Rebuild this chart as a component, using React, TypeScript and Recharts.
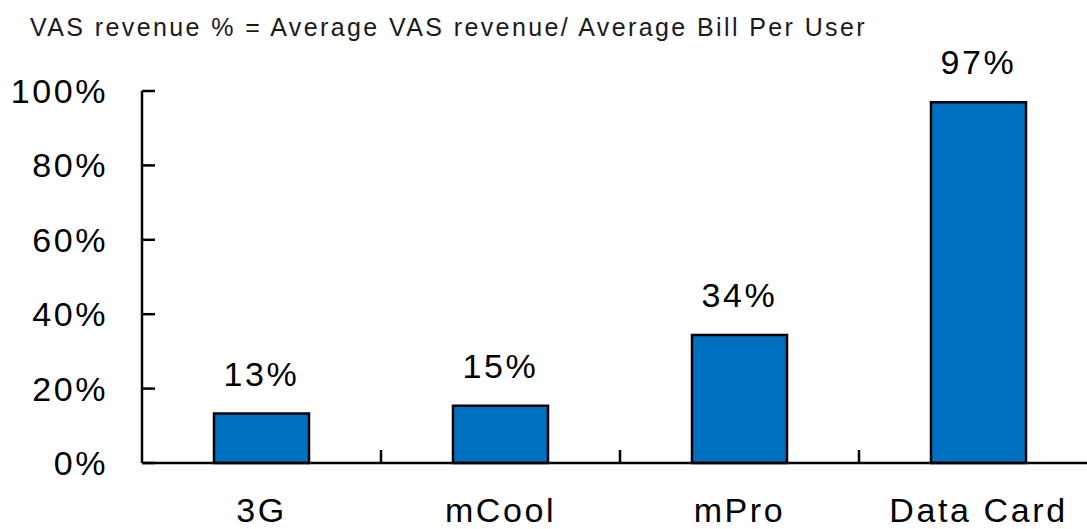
import React from 'react';
import { BarChart, Bar, XAxis, YAxis, LabelList } from 'recharts';

const categories = ['3G', 'mCool', 'mPro', 'Data Card'];
const vasShare = [0.133, 0.154, 0.344, 0.97];
const yTicks = [0, 0.2, 0.4, 0.6, 0.8, 1];
const yTickLabels = ['0%', '20%', '40%', '60%', '80%', '100%'];
const title = 'VAS revenue % = Average VAS revenue/ Average Bill Per User';

const data = categories.map((name, i) => ({ name, value: vasShare[i] }));

const FONT = '"Liberation Sans", Arial, sans-serif';
const BIG = 34;
const LS = 2.6;

const XTick = (props: any) => {
  const { x, y, payload } = props;
  const off = payload && payload.offset ? payload.offset : 0;
  return (
    <g>
      <line x1={x + off} x2={x + off} y1={y} y2={y - 13} stroke="#000" strokeWidth={2.5} />
      <text x={x} y={y + 59} textAnchor="middle" fontSize={BIG} fontFamily={FONT} letterSpacing={LS} fill="#000">
        {payload.value}
      </text>
    </g>
  );
};

const YTick = (props: any) => {
  const { x, y, payload } = props;
  const idx = yTicks.indexOf(payload.value);
  const label = idx >= 0 ? yTickLabels[idx] : String(payload.value);
  return (
    <g>
      <line x1={x} x2={x + 13} y1={y} y2={y} stroke="#000" strokeWidth={2.5} />
      <text x={x - 34} y={y + 12} textAnchor="end" fontSize={BIG} fontFamily={FONT} letterSpacing={LS} fill="#000">
        {label}
      </text>
    </g>
  );
};

const fmt = (v: any) => `${Math.round(Number(v) * 100)}%`;

export default function App() {
  return (
    <div style={{ width: 1087, height: 529, overflow: 'hidden', position: 'relative', background: '#fff' }}>
      <style>{'body{margin:0;}'}</style>
      <div
        style={{
          position: 'absolute',
          left: 30,
          top: 14.5,
          fontFamily: FONT,
          fontSize: 25,
          lineHeight: '25px',
          letterSpacing: 2.4,
          color: '#1a1a1a',
          whiteSpace: 'nowrap',
        }}
      >
        {title}
      </div>
      <BarChart
        width={1098}
        height={529}
        data={data}
        margin={{ top: 91, right: 0, bottom: 0, left: 0 }}
        barSize={95}
      >
        <XAxis
          dataKey="name"
          type="category"
          height={66}
          tickSize={0}
          tickMargin={0}
          tickLine={false}
          axisLine={{ stroke: '#000', strokeWidth: 2.5 }}
          tick={<XTick />}
          interval={0}
        />
        <YAxis
          type="number"
          domain={[0, 1]}
          ticks={yTicks}
          width={142}
          tickSize={0}
          tickMargin={0}
          tickLine={false}
          axisLine={{ stroke: '#000', strokeWidth: 2.5 }}
          tick={<YTick />}
          interval={0}
        />
        <Bar dataKey="value" fill="#0070C0" stroke="#000" strokeWidth={2.5} isAnimationActive={false}>
          <LabelList
            dataKey="value"
            position="top"
            offset={28}
            formatter={fmt}
            style={{ fontSize: BIG, fontFamily: FONT, letterSpacing: LS, fill: '#000' }}
          />
        </Bar>
      </BarChart>
    </div>
  );
}
